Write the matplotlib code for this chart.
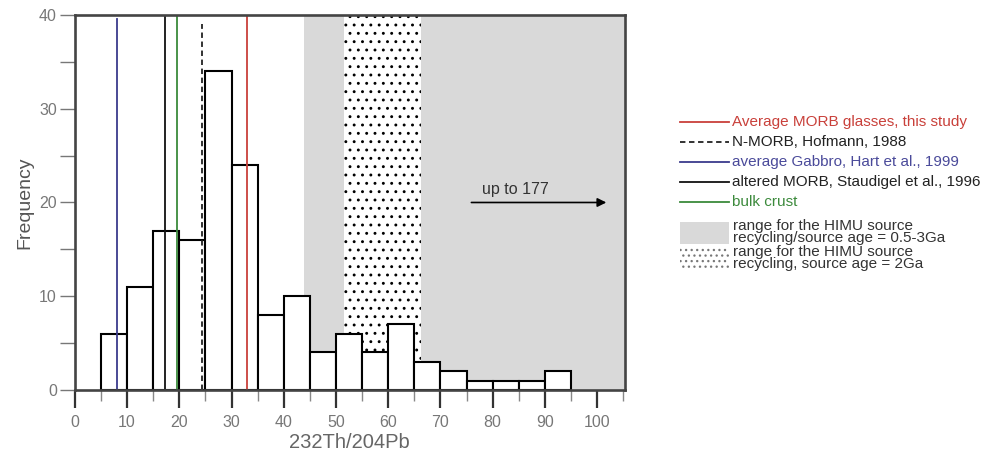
import matplotlib.pyplot as plt
from matplotlib.lines import Line2D
from matplotlib.patches import Rectangle

plt.rcParams['font.family'] = ['Liberation Sans', 'DejaVu Sans']
plt.rcParams['hatch.linewidth'] = 0.9

# histogram of 232Th/204Pb, bins of width 5
bin_left = [5, 10, 15, 20, 25, 30, 35, 40, 45, 50, 55, 60, 65, 70, 75, 80, 85, 90]
counts = [6, 11, 17, 16, 34, 24, 8, 10, 4, 6, 4, 7, 3, 2, 1, 1, 1, 2]
bin_width = 5

# reference values (vertical lines)
ref_names = ["Average MORB glasses, this study", "N-MORB, Hofmann, 1988",
             "average Gabbro, Hart et al., 1999", "altered MORB, Staudigel et al., 1996",
             "bulk crust"]
ref_values = [33.0, 24.3, 8.0, 17.3, 19.6]
ref_tops = [1.0, 0.975, 0.99, 1.0, 1.0]
ref_colors = ["#c9403a", "#222222", "#3a3a8c", "#111111", "#3c8a3c"]
ref_text_colors = ["#c9403a", "#222222", "#4a4a9a", "#222222", "#3c8a3c"]
ref_styles = ["-", (0, (3, 2)), "-", "-", "-"]

# HIMU source ranges
himu_range = (43.8, 106)
himu_2ga = (51.6, 66.2)
himu_labels = ["range for the HIMU source\nrecycling/source age = 0.5-3Ga",
               "range for the HIMU source\nrecycling, source age = 2Ga"]

fig = plt.figure(figsize=(9.98, 4.54), dpi=100)
ax = fig.add_axes([0.075, 0.141, 0.551, 0.826])

grey = "#d9d9d9"
ax.axvspan(himu_range[0], himu_range[1], color=grey, lw=0, zorder=0)
ax.axvspan(himu_2ga[0], himu_2ga[1], facecolor="white", edgecolor="black",
           hatch="..", lw=0, zorder=1)

ax.bar(bin_left, counts, width=bin_width, align="edge", facecolor="white",
       edgecolor="black", linewidth=1.5, zorder=2)

for v, c, ls, top in zip(ref_values, ref_colors, ref_styles, ref_tops):
    ax.axvline(v, color=c, ls=ls, lw=1.3, ymax=top, zorder=3)

ax.annotate("", xy=(102.3, 20), xytext=(75.4, 20),
            arrowprops=dict(arrowstyle="-|>", color="black", lw=1.2,
                            mutation_scale=13), zorder=4)
ax.text(77.9, 20.9, "up to 177", fontsize=11.5, color="#333333", zorder=4)

ax.set_xlim(0, 105.3)
ax.set_ylim(0, 40)
ax.set_xticks(range(0, 101, 10))
ax.set_xticks(range(5, 106, 10), minor=True)
ax.set_yticks(range(0, 41, 10))
ax.set_yticks(range(5, 41, 10), minor=True)
ax.tick_params(axis="x", which="major", length=13, width=1.6, colors="#333333",
               labelcolor="#777777", labelsize=11.5, pad=5)
ax.tick_params(axis="x", which="minor", length=8, width=1.0, colors="#888888")
ax.tick_params(axis="y", which="both", length=11, width=1.0, colors="#777777",
               labelcolor="#777777", labelsize=11.5, pad=2)
for sp in ax.spines.values():
    sp.set_linewidth(1.9)
    sp.set_color("#444444")
    sp.set_zorder(5)

ax.set_xlabel("232Th/204Pb", fontsize=14.5, color="#666666", labelpad=2)
ax.set_ylabel("Frequency", fontsize=14, color="#555555", labelpad=4)

# legend drawn by hand in figure coordinates
H = 454.0
W = 998.0
rows_y = [122, 142, 162, 182, 202]
for y, c, tc, ls, name in zip(rows_y, ref_colors, ref_text_colors, ref_styles, ref_names):
    fy = 1 - y / H
    fig.add_artist(Line2D([680 / W, 729 / W], [fy, fy], color=c, ls=ls, lw=1.3))
    fig.text(732 / W, fy, name, color=tc, fontsize=11, va="center")

fig.add_artist(Rectangle((680 / W, 1 - 244 / H), 49 / W, 22 / H,
                         facecolor=grey, edgecolor="none", transform=fig.transFigure))
fig.text(733 / W, 1 - 232 / H, himu_labels[0], color="#333333", fontsize=11,
         va="center", linespacing=0.85)
fig.add_artist(Rectangle((680 / W, 1 - 270 / H), 49 / W, 22 / H,
                         facecolor="white", edgecolor="#777777", hatch="...",
                         transform=fig.transFigure, lw=0))
fig.text(733 / W, 1 - 258 / H, himu_labels[1], color="#333333", fontsize=11,
         va="center", linespacing=0.85)

fig.savefig("out.png", dpi=100)
